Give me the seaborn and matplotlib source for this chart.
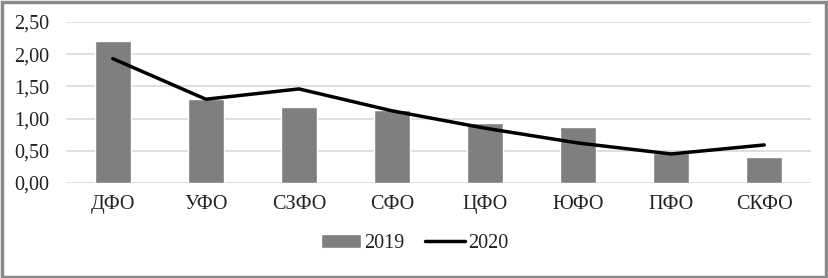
import pandas as pd
import matplotlib.pyplot as plt
import seaborn as sns
from matplotlib.patches import Rectangle

regions = ['ДФО', 'УФО', 'СЗФО', 'СФО', 'ЦФО', 'ЮФО', 'ПФО', 'СКФО']
values_2019 = [2.20, 1.30, 1.18, 1.13, 0.93, 0.87, 0.47, 0.40]
values_2020 = [1.93, 1.30, 1.46, 1.12, 0.85, 0.62, 0.45, 0.59]
y_ticks = [0.0, 0.5, 1.0, 1.5, 2.0, 2.5]

df = pd.DataFrame({'region': regions, '2019': values_2019, '2020': values_2020})

sns.set_style('white')
plt.rcParams['font.family'] = ['Liberation Serif', 'DejaVu Serif']

fig = plt.figure(figsize=(8.29, 2.78), dpi=100)
ax = fig.add_axes([0.080, 0.342, 0.898, 0.579])

sns.barplot(data=df, x='region', y='2019', color='#7f7f7f', width=0.39,
            saturation=1, label='2019', ax=ax, zorder=2)
sns.pointplot(data=df, x='region', y='2020', color='black', markers='',
              linewidth=2.5, label='2020', ax=ax, zorder=3)
if ax.get_legend() is not None:
    ax.get_legend().remove()

ax.set_ylim(0, 2.5)
ax.set_yticks(y_ticks)
ax.set_yticklabels([f'{v:.2f}'.replace('.', ',') for v in y_ticks])
ax.yaxis.grid(True, color='#d9d9d9', linewidth=1.2, zorder=0)
ax.set_axisbelow(True)
ax.set_xlabel('')
ax.set_ylabel('')
for s in ax.spines.values():
    s.set_visible(False)
ax.tick_params(axis='y', length=0, pad=12, labelsize=14.5, labelcolor='#222222')
ax.tick_params(axis='x', length=0, pad=9, labelsize=14.5, labelcolor='#222222')

handles, labels = ax.get_legend_handles_labels()
order = [labels.index('2019'), labels.index('2020')]
fig.legend([handles[i] for i in order], [labels[i] for i in order],
           loc='center', bbox_to_anchor=(0.5, 0.125), ncol=2,
           frameon=False, fontsize=14.5, handlelength=2.0, handletextpad=0.15,
           columnspacing=1.0, labelcolor='#222222')

fig.patches.append(Rectangle((0.002, 0.004), 0.994, 0.990, transform=fig.transFigure,
                             fill=False, edgecolor='#8a8a8a', linewidth=2.5))

fig.savefig('out.png', dpi=100)
